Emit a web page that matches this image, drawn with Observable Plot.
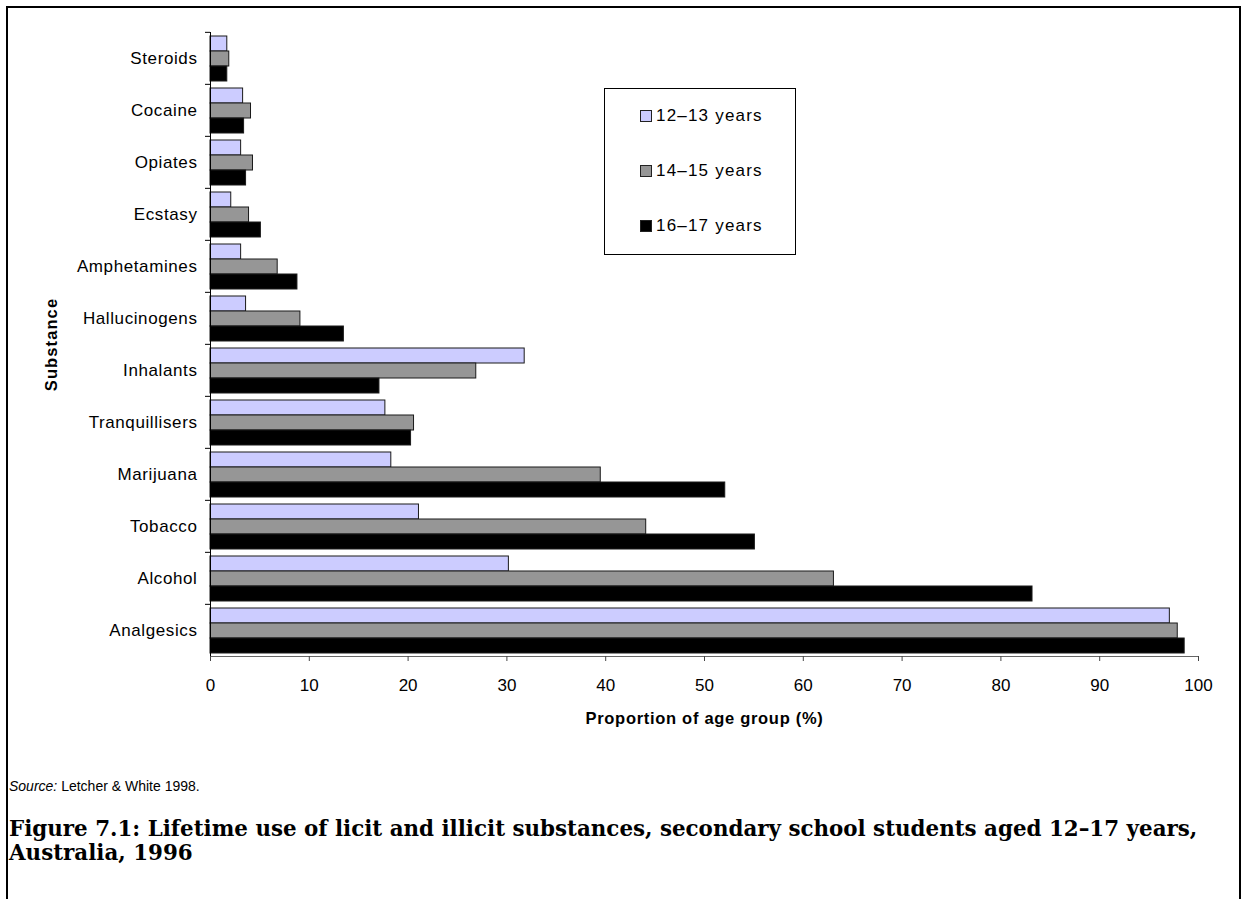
<!DOCTYPE html>
<html>
<head>
<meta charset="utf-8">
<script src="https://cdn.jsdelivr.net/npm/d3@7"></script>
<script src="https://cdn.jsdelivr.net/npm/@observablehq/plot@0.6"></script>
<style>
  html, body { margin: 0; padding: 0; background: #fff; }
  body { width: 1242px; height: 899px; position: relative; overflow: hidden; font-family: Arial, "Liberation Sans", sans-serif; color: #000; }
  #frame { position: absolute; left: 6px; top: 6px; width: 1235px; height: 900px; border: 2px solid #000; border-bottom: none; box-sizing: border-box; }
  #chart { position: absolute; left: 0; top: 0; }
  #chart svg g[aria-label="x-axis label"] text { font-weight: bold; font-size: 16.5px; letter-spacing: 0.7px; }
  #chart svg g[aria-label="fy-axis label"] text { font-weight: bold; font-size: 16.5px; letter-spacing: 1.1px; }
  #chart svg g[aria-label="fy-axis tick label"] text { letter-spacing: 0.6px; }
  #legend { position: absolute; left: 604px; top: 88px; width: 192px; height: 167px; border: 1px solid #000; box-sizing: border-box; background: #fff; }
  .item { position: absolute; left: 35px; height: 20px; font-size: 17px; letter-spacing: 1.2px; line-height: 20px; white-space: nowrap; }
  .swatch { display: inline-block; width: 10px; height: 10px; border: 1px solid #222; vertical-align: -1px; margin-right: 4px; }
  #source { position: absolute; left: 9px; top: 778px; font-size: 14px; }
  #source i { font-style: italic; }
  #title { position: absolute; left: 9px; top: 817px; font-family: "DejaVu Serif", serif; font-weight: bold; font-size: 21.4px; line-height: 24px; white-space: nowrap; }
</style>
</head>
<body>
<div id="frame"></div>
<div id="chart"></div>
<div id="legend"></div>
<div id="source"><i>Source:</i> Letcher &amp; White 1998.</div>
<div id="title">Figure 7.1: Lifetime use of licit and illicit substances, secondary school students aged 12–17 years,<br>Australia, 1996</div>
<script>
const substances = ["Steroids", "Cocaine", "Opiates", "Ecstasy", "Amphetamines", "Hallucinogens", "Inhalants", "Tranquillisers", "Marijuana", "Tobacco", "Alcohol", "Analgesics"];
const ageGroups = ["12–13 years", "14–15 years", "16–17 years"];
const age12to13 = [1.7, 3.3, 3.1, 2.1, 3.1, 3.6, 31.8, 17.7, 18.3, 21.1, 30.2, 97.1];
const age14to15 = [1.9, 4.1, 4.3, 3.9, 6.8, 9.1, 26.9, 20.6, 39.5, 44.1, 63.1, 97.9];
const age16to17 = [1.7, 3.4, 3.6, 5.1, 8.8, 13.5, 17.1, 20.3, 52.1, 55.1, 83.2, 98.6];
const xTicks = [0, 10, 20, 30, 40, 50, 60, 70, 80, 90, 100];
const colors = ["#CCCCFF", "#969696", "#000000"];

const series = [age12to13, age14to15, age16to17];
const data = substances.flatMap((s, i) => ageGroups.map((g, j) => ({substance: s, group: g, value: series[j][i]})));

const marginTop = 30, marginBottom = 82, height = 740;
const step = (height - marginTop - marginBottom) / substances.length;

const chart = Plot.plot({
  width: 1242,
  height,
  marginLeft: 210,
  marginRight: 44,
  marginTop,
  marginBottom,
  style: {fontFamily: "Arial, 'Liberation Sans', sans-serif", fontSize: "17px", color: "#000", background: "transparent", overflow: "visible"},
  x: {domain: [0, 100]},
  fy: {domain: substances, padding: 0},
  y: {domain: ageGroups, paddingInner: 0, paddingOuter: 0.2, axis: null},
  color: {domain: ageGroups, range: colors},
  marks: [
    Plot.barX(data, {fy: "substance", y: "group", x: "value", fill: "group", stroke: "#1a1a1a", strokeWidth: 1}),
    Plot.ruleX([0], {stroke: "#000"}),
    Plot.frame({anchor: "bottom", facet: "super", stroke: "#666"}),
    Plot.axisFy({anchor: "left", tickSize: 0, tickPadding: 13, label: "Substance", labelAnchor: "center", labelOffset: 165, labelArrow: "none"}),
    Plot.axisFy({anchor: "left", tickSize: 5, tickFormat: () => "", label: null, dy: -step / 2}),
    Plot.axisX({ticks: xTicks, tickSize: 5, tickPadding: 17, stroke: "#444", label: "Proportion of age group (%)", labelAnchor: "center", labelOffset: 67, labelArrow: "none"})
  ]
});
document.getElementById("chart").appendChild(chart);

const legend = document.getElementById("legend");
ageGroups.forEach((g, j) => {
  const item = document.createElement("div");
  item.className = "item";
  item.style.top = (17 + j * 55) + "px";
  const sw = document.createElement("span");
  sw.className = "swatch";
  sw.style.background = colors[j];
  item.appendChild(sw);
  item.appendChild(document.createTextNode(g));
  legend.appendChild(item);
});
</script>
</body>
</html>
